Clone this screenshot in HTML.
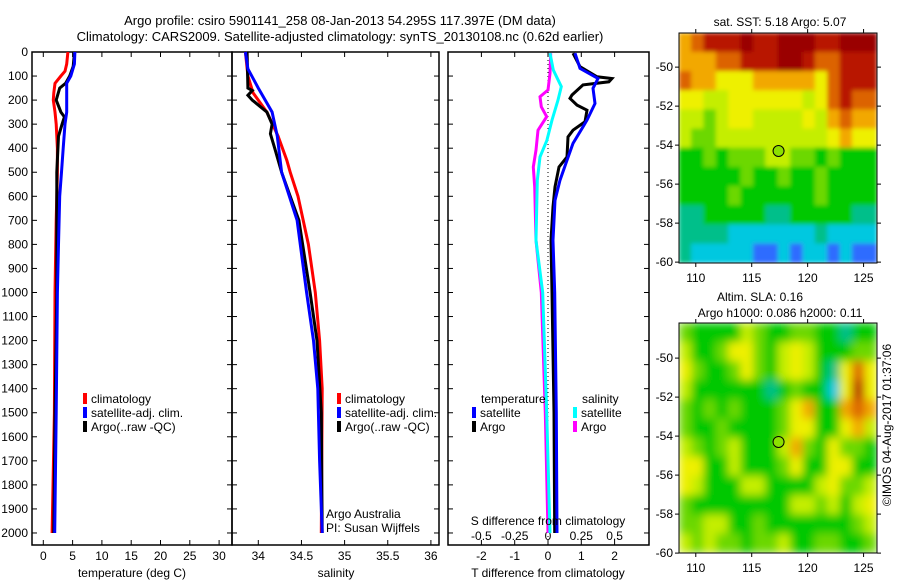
<!DOCTYPE html>
<html><head><meta charset="utf-8"><style>
html,body{margin:0;padding:0;background:#fff;}
svg text{font-family:"Liberation Sans",sans-serif;font-size:12px;fill:#000;}
</style></head><body>
<svg id="c" width="900" height="580" xmlns="http://www.w3.org/2000/svg">
<defs>
<filter id="bl" x="0" y="0" width="1" height="1"><feGaussianBlur stdDeviation="4.5"/></filter>
<filter id="bl1" x="0" y="0" width="1" height="1"><feGaussianBlur stdDeviation="2"/></filter>
<clipPath id="cm1"><rect x="679" y="33" width="198" height="230"/></clipPath>
<clipPath id="cm2"><rect x="679" y="323" width="198" height="230"/></clipPath>
</defs>
<text x="340" y="25" text-anchor="middle" style="font-size:13px">Argo profile: csiro 5901141_258 08-Jan-2013 54.295S 117.397E (DM data)</text>
<text x="340" y="41" text-anchor="middle" style="font-size:13px">Climatology: CARS2009. Satellite-adjusted climatology: synTS_20130108.nc (0.62d earlier)</text>
</svg>
<script>
// ---------- data ----------
const depthTicks=[0,100,200,300,400,500,600,700,800,900,1000,1100,1200,1300,1400,1500,1600,1700,1800,1900,2000];
const tempTicks=[0,5,10,15,20,25,30];
const salTicks=[34,34.5,35,35.5,36];
const tdTicks=[-2,-1,0,1,2];
const sdTicks=[-0.5,-0.25,0,0.25,0.5];
const sdTickLabels=["-0.5","-0.25","0","0.25","0.5"];

const tClimD=[0,50,80,100,130,170,200,250,300,350,400,500,700,1000,1500,2000];
const tClimV=[4.2,4.0,3.7,3.0,2.0,1.8,1.7,2.0,2.2,2.3,2.4,2.4,2.2,2.0,1.9,1.5];
const tSatD=[0,50,100,130,250,300,400,500,600,800,1000,1500,2000];
const tSatV=[5.4,5.3,4.7,4.0,4.0,3.7,3.4,3.1,2.8,2.6,2.4,2.2,1.95];
const tArgoD=[5,60,100,130,150,200,250,270,300,350,500,700,1000,1500,2000];
const tArgoV=[5.3,5.1,4.5,3.8,2.8,2.2,3.0,3.6,3.2,2.6,2.3,2.3,2.3,2.0,1.8];

const sClimD=[0,100,170,250,350,450,500,600,700,800,1000,1200,1400,2000];
const sClimV=[33.85,33.88,33.94,34.10,34.23,34.33,34.37,34.46,34.52,34.58,34.66,34.71,34.74,34.73];
const sSatD=[0,70,150,250,350,500,700,1000,1200,1400,1700,2000];
const sSatV=[33.85,33.88,34.0,34.16,34.22,34.27,34.45,34.56,34.64,34.69,34.71,34.74];
const sArgoD=[0,150,160,180,200,250,300,340,400,500,600,700,1000,1200,1500,2000];
const sArgoV=[33.87,33.88,33.93,33.88,33.93,34.10,34.16,34.14,34.19,34.27,34.37,34.47,34.60,34.68,34.73,34.74];

const dTSatD=[5,68,110,151,214,283,311,380,450,533,617,783,1000,1500,2000];
const dTSatV=[0.81,0.96,1.5,1.35,1.41,1.17,1.05,0.75,0.57,0.36,0.21,0.15,0.2,0.25,0.27];
const dTArgoD=[5,61,103,110,124,137,179,193,221,242,290,325,353,436,478,561,644,783,1000,1500,2000];
const dTArgoV=[0.75,0.96,1.47,1.92,1.83,1.05,0.72,0.66,0.87,1.17,1.11,0.75,0.6,0.57,0.33,0.21,0.15,0.09,0.12,0.18,0.2];
const dSSatD=[5,75,144,200,283,367,436,533,783,1000,1500,2000];
const dSSatV=[0.015,0.04,0.1,0.075,0.03,-0.008,-0.06,-0.08,-0.09,-0.04,-0.01,0.015];
const dSArgoD=[5,89,158,186,228,269,325,408,478,561,783,1000,1500,2000];
const dSArgoV=[0.02,0.015,0,-0.06,-0.05,-0.01,-0.075,-0.09,-0.11,-0.1,-0.09,-0.05,-0.02,0];

const lonTicks=[110,115,120,125];
const latTicks=[-50,-52,-54,-56,-58,-60];
const sstGrid=[
[7,8,9,9,9,10,9,9,10,10,10,9,9,10,10,10],
[7,7,7,8,8,9,9,9,10,10,9,8,8,9,9,9],
[8,7,7,6,6,6,7,7,7,7,7,6,8,9,9,9],
[6,6,5,5,6,6,6,6,6,6,5,6,8,9,8,8],
[5,5,4,5,6,6,5,5,5,5,6,5,7,8,7,7],
[5,4,4,5,5,5,5,5,5,5,5,5,6,7,6,6],
[3,3,4,3,4,4,4,5,5,4,4,3,4,3,3,3],
[3,3,3,3,3,4,3,3,4,3,3,4,3,3,3,3],
[3,3,3,3,4,3,3,3,3,3,3,4,3,3,3,3],
[2,2,3,3,3,3,3,2,2,3,3,3,3,3,2,2],
[2,2,2,2,1,1,1,1,1,1,1,2,1,1,1,1],
[2,1,1,1,1,1,0,0,1,0,1,1,0,1,0,0]];
const slaGrid=[
[4,3,3,3,3,5,4,3,3,4,4,3,3,2,3,3],
[5,3,3,4,6,6,4,3,5,6,5,3,3,3,4,4],
[6,4,3,3,4,6,4,3,5,6,5,3,2,6,8,6],
[5,3,3,3,3,3,3,2,3,4,3,3,1,6,9,6],
[4,3,4,3,4,3,3,3,4,6,7,3,3,7,8,7],
[4,3,3,4,3,3,3,3,4,6,6,3,3,6,7,5],
[5,4,3,4,5,3,3,3,5,7,4,3,6,4,4,3],
[6,6,3,3,5,3,3,3,4,6,3,3,6,6,3,3],
[6,5,3,3,3,5,5,3,3,3,3,5,6,4,4,5],
[4,3,3,3,3,3,3,3,3,5,5,4,5,3,5,6],
[4,4,5,5,3,3,4,3,3,3,3,3,3,3,4,5],
[5,4,5,4,4,3,4,4,5,3,3,4,4,3,3,4]];
const argoLon=117.4, argoLat=-54.3;

// ---------- helpers ----------
const S=document.getElementById('c');
const NS='http://www.w3.org/2000/svg';
function mk(tag,attrs,parent){const e=document.createElementNS(NS,tag);for(const k in attrs)e.setAttribute(k,attrs[k]);(parent||S).appendChild(e);return e;}
function txt(x,y,s,anchor,name,extra){const t=mk('text',Object.assign({x:x,y:y,'text-anchor':anchor||'start'},extra||{}));t.textContent=s;


return t;}

const PT=52, PB=545;
const yD=d=>PT+d*(PB-PT)/2050;
const xT=v=>43.3+v*5.86;
const xS=v=>258.3+(v-34)*86.3;
const xDT=v=>548+v*33.3;
const xDS=v=>548+v*133.2;

function panel(x0,x1,name){
  const r=mk('rect',{x:x0,y:PT,width:x1-x0,height:PB-PT,fill:'none',stroke:'#000','stroke-width':1.5});
  
  
  depthTicks.forEach(d=>{const y=yD(d);mk('line',{x1:x0,x2:x0+5,y1:y,y2:y,stroke:'#000'});mk('line',{x1:x1-5,x2:x1,y1:y,y2:y,stroke:'#000'});});
}
function line(D,V,xf,color,name,w){
  const p=D.map((d,i)=>xf(V[i]).toFixed(1)+','+yD(d).toFixed(1)).join(' ');
  const l=mk('polyline',{points:p,fill:'none',stroke:color,'stroke-width':w||3,'stroke-linejoin':'miter'});
  
  
}
function xticks(ticks,xf,x0,x1,labels,ly,nm){
  ticks.forEach((t,i)=>{const x=xf(t);mk('line',{x1:x,x2:x,y1:PB,y2:PB-5,stroke:'#000'});mk('line',{x1:x,x2:x,y1:PT,y2:PT+5,stroke:'#000'});
  txt(x,ly,labels?labels[i]:String(t),'middle',nm+'-tick-label');});
}
function legendEntry(x,y,color,label,name){
  const r=mk('rect',{x:x,y:y-10,width:4,height:11,fill:color});
  
  
  txt(x+8,y,label,'start',name);
}

// y tick labels
depthTicks.forEach(d=>txt(28,yD(d)+4,String(d),'end','depth-tick-label'));

// panel 1 temperature
panel(32,232,'temperature-panel');
xticks(tempTicks,xT,32,232,null,560,'temperature');
txt(132,577,'temperature (deg C)','middle','temperature-axis-title');
line(tClimD,tClimV,xT,'#f00','temperature-climatology-line');
line(tArgoD,tArgoV,xT,'#000','temperature-argo-line');
line(tSatD,tSatV,xT,'#00f','temperature-satellite-line');
legendEntry(83,403,'#f00','climatology','legend-climatology');
legendEntry(83,417,'#00f','satellite-adj. clim.','legend-satellite-adj');
legendEntry(83,431,'#000','Argo(..raw -QC)','legend-argo');

// panel 2 salinity
panel(232,439,'salinity-panel');
xticks(salTicks,xS,232,439,null,560,'salinity');
txt(336,577,'salinity','middle','salinity-axis-title');
line(sClimD,sClimV,xS,'#f00','salinity-climatology-line');
line(sArgoD,sArgoV,xS,'#000','salinity-argo-line');
line(sSatD,sSatV,xS,'#00f','salinity-satellite-line');
legendEntry(337,403,'#f00','climatology','legend-climatology-sal');
legendEntry(337,417,'#00f','satellite-adj. clim.','legend-satellite-adj-sal');
legendEntry(337,431,'#000','Argo(..raw -QC)','legend-argo-sal');
txt(326,518,'Argo Australia','start','credit-argo-australia');
txt(326,532,'PI: Susan Wijffels','start','credit-pi');

// panel 3 differences
panel(448,649,'difference-panel');
tdTicks.forEach(t=>{const x=xDT(t);mk('line',{x1:x,x2:x,y1:PB,y2:PB-5,stroke:'#000'});mk('line',{x1:x,x2:x,y1:PT,y2:PT+5,stroke:'#000'});txt(x,560,String(t),'middle','t-diff-tick-label');});
sdTicks.forEach((t,i)=>txt(xDS(t),540,sdTickLabels[i],'middle','s-diff-tick-label'));
mk('line',{x1:548,x2:548,y1:PT,y2:PB,stroke:'#000','stroke-dasharray':'1,3'});
line(dSArgoD,dSArgoV,xDS,'#f0f','salinity-diff-argo-line');
line(dSSatD,dSSatV,xDS,'#0ff','salinity-diff-satellite-line');
line(dTArgoD,dTArgoV,xDT,'#000','temperature-diff-argo-line');
line(dTSatD,dTSatV,xDT,'#00f','temperature-diff-satellite-line');
txt(481,403,'temperature','start','legend-temperature-header');
legendEntry(472,417,'#00f','satellite','legend-t-satellite');
legendEntry(472,431,'#000','Argo','legend-t-argo');
txt(582,403,'salinity','start','legend-salinity-header');
legendEntry(573,417,'#0ff','satellite','legend-s-satellite');
legendEntry(573,431,'#f0f','Argo','legend-s-argo');
txt(548,525,'S difference from climatology','middle','s-diff-axis-title');
txt(548,577,'T difference from climatology','middle','t-diff-axis-title');

// maps
const cmap=['#2e6cff','#00c8e0','#00bf8a','#00c800','#6cd800','#c4ee00','#eef000','#f2a800','#dc6400','#b81800','#9a0000'];
const LON0=108.5, LON1=126.2;
function map(top,latTop,grid,clip,name,filt){
  const xL=v=>679+(v-LON0)*(198/(LON1-LON0));
  const yL=v=>top+(latTop-v)*19.5;
  const g=mk('g',{'clip-path':'url(#'+clip+')'});
  
  
  const inner=mk('g',{filter:'url(#'+filt+')'},g);
  const rows=grid.length, cols=grid[0].length, cw=198/cols, ch=230/rows;
  mk('rect',{x:679,y:top,width:198,height:230,fill:cmap[3]},inner);
  grid.forEach((row,r)=>row.forEach((v,c)=>{
    const cell=mk('rect',{x:679+c*cw-0.3,y:top+r*ch-0.3,width:cw+0.6,height:ch+0.6,fill:cmap[v]},inner);
    
    
  }));
  mk('rect',{x:679,y:top,width:198,height:230,fill:'none',stroke:'#000'});
  lonTicks.forEach(t=>{const x=xL(t);mk('line',{x1:x,x2:x,y1:top+230,y2:top+234,stroke:'#000'});mk('line',{x1:x,x2:x,y1:top-4,y2:top,stroke:'#000'});txt(x,top+249,String(t),'middle','lon-tick-label');});
  latTicks.forEach(t=>{const y=yL(t);mk('line',{x1:675,x2:679,y1:y,y2:y,stroke:'#000'});mk('line',{x1:877,x2:881,y1:y,y2:y,stroke:'#000'});txt(673,y+4,String(t),'end','lat-tick-label');});
  const m=mk('circle',{cx:xL(argoLon),cy:yL(argoLat),r:5.5,fill:'#8ce000',stroke:'#000','stroke-width':1});
  
  
}
map(33,-48.25,sstGrid,'cm1','sst-map','bl1');
map(323,-48.2,slaGrid,'cm2','sla-map','bl');
txt(780,26,'sat. SST: 5.18 Argo: 5.07','middle','sst-map-title');
txt(760,301,'Altim. SLA: 0.16','middle','sla-map-title');
txt(780,317,'Argo h1000: 0.086 h2000: 0.11','middle','sla-map-subtitle');
const cp=txt(0,0,'\u00a9IMOS 04-Aug-2017 01:37:06','middle','timestamp-credit',{transform:'translate(891,425) rotate(-90)'});
</script>
</body></html>
